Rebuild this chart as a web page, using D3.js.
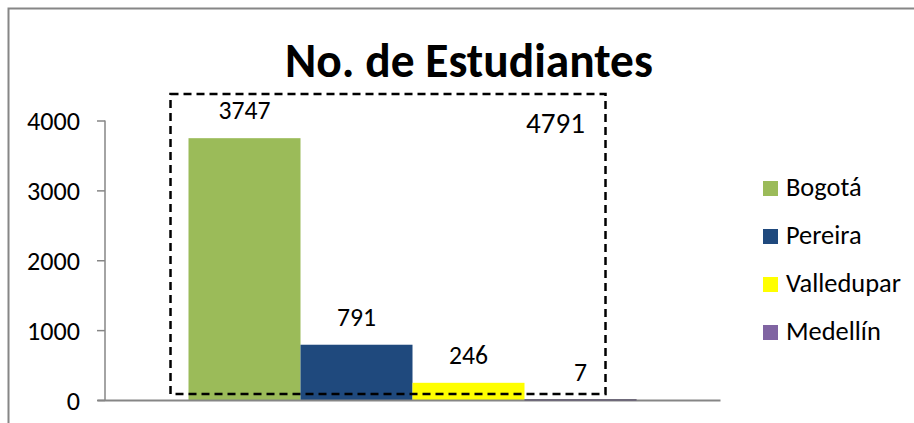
<!DOCTYPE html>
<html>
<head>
<meta charset="utf-8">
<script src="https://cdn.jsdelivr.net/npm/d3@7"></script>
<style>
  html, body { margin: 0; padding: 0; background: #fff; }
  svg { display: block; font-family: Carlito, Calibri, Lato, "Open Sans", sans-serif; }
</style>
</head>
<body>
<div id="chart"></div>
<script>
const title = "No. de Estudiantes";
const cities = ["Bogotá", "Pereira", "Valledupar", "Medellín"];
const students = [3747, 791, 246, 7];
const colors = ["#9BBB59", "#1F497D", "#FFFF00", "#8064A2"];
const yTicks = [0, 1000, 2000, 3000, 4000];

const width = 914;
const height = 423;
const marginTop = 120.5;
const marginLeft = 105;
const plotRight = 720;
const baseline = 400;

const data = cities.map((c, i) => ({ city: c, value: students[i], color: colors[i] }));
const total = d3.sum(students);

const svg = d3.select("#chart")
  .append("svg")
  .attr("width", width)
  .attr("height", height);

// fit a text element's font size to a target width
const fit = (sel, target) => {
  const len = sel.node().getComputedTextLength();
  const fs = parseFloat(sel.attr("font-size"));
  const size = fs * target / len;
  sel.attr("font-size", size);
  return size;
};

// outer chart frame (runs off the right and bottom edges)
svg.append("rect")
  .attr("x", 8.5).attr("y", 8.5)
  .attr("width", 940).attr("height", 440)
  .attr("fill", "none")
  .attr("stroke", "#868686")
  .attr("stroke-width", 2);

// scales
const x0 = d3.scaleBand()
  .domain([title])
  .range([marginLeft, plotRight])
  .paddingInner(0)
  .paddingOuter(0.1864);

const x1 = d3.scaleBand()
  .domain(cities)
  .range([0, x0.bandwidth()]);

const y = d3.scaleLinear()
  .domain([0, 4000])
  .range([baseline, marginTop]);

// title
const t = svg.append("text")
  .attr("x", 469)
  .attr("y", 77)
  .attr("text-anchor", "middle")
  .attr("font-weight", "bold")
  .attr("font-size", 48)
  .attr("fill", "#000")
  .text(title);
fit(t, 368);

// bars
const gx = x0(title);
svg.append("g")
  .selectAll("rect")
  .data(data)
  .join("rect")
  .attr("x", d => gx + x1(d.city))
  .attr("y", d => y(d.value))
  .attr("width", x1.bandwidth())
  .attr("height", d => Math.max(y(0) - y(d.value), 0.6))
  .attr("fill", d => d.color);

// y axis
const yAxis = svg.append("g")
  .attr("transform", `translate(${marginLeft},0)`)
  .call(d3.axisLeft(y).tickValues(yTicks).tickSize(8).tickPadding(17).tickFormat(d3.format("d")));
yAxis.select(".domain").attr("stroke", "#868686").attr("stroke-width", 1.5)
  .attr("d", `M0,${y(4000)}V${y(0)}`);
yAxis.selectAll(".tick line").attr("stroke", "#868686").attr("stroke-width", 1.5);
yAxis.selectAll(".tick text")
  .attr("fill", "#000")
  .attr("font-family", "Carlito, Calibri, Lato, 'Open Sans', sans-serif")
  .attr("font-size", 24)
  .attr("dy", "0.36em");
const tickSize = fit(yAxis.selectAll(".tick text").filter(d => d === 4000), 53);
yAxis.selectAll(".tick text").attr("font-size", tickSize);

// x axis baseline
svg.append("g")
  .attr("transform", `translate(0,${baseline})`)
  .call(d3.axisBottom(d3.scaleLinear().range([marginLeft - 8, plotRight])).tickValues([]).tickSizeOuter(0))
  .call(g => g.select(".domain").attr("stroke", "#868686").attr("stroke-width", 2));
// Medellín's tiny bar sits on the baseline
svg.append("line")
  .attr("x1", gx + x1("Medellín")).attr("x2", gx + x1("Medellín") + x1.bandwidth())
  .attr("y1", baseline).attr("y2", baseline)
  .attr("stroke", "#6f6a7a").attr("stroke-width", 2);

// value labels
const labels = svg.append("g")
  .attr("text-anchor", "middle")
  .attr("fill", "#000")
  .selectAll("text")
  .data(data)
  .join("text")
  .attr("x", d => gx + x1(d.city) + x1.bandwidth() / 2)
  .attr("y", d => y(d.value) - 19)
  .attr("font-size", 22)
  .text(d => d.value);
const lblSize = fit(labels.filter(d => d.city === "Bogotá"), 52);
labels.attr("font-size", lblSize);

// dashed box with total
svg.append("rect")
  .attr("x", gx - 18)
  .attr("y", y(4000) - 26.5)
  .attr("width", 435)
  .attr("height", y(0) - 6 - (y(4000) - 26.5))
  .attr("fill", "none")
  .attr("stroke", "#000")
  .attr("stroke-width", 2.5)
  .attr("stroke-dasharray", "8,5");

const tot = svg.append("text")
  .attr("x", 555.5)
  .attr("y", 133)
  .attr("text-anchor", "middle")
  .attr("font-size", 24)
  .attr("fill", "#000")
  .text(total);
fit(tot, 59);

// legend
const legend = svg.append("g")
  .attr("transform", "translate(763,181)")
  .selectAll("g")
  .data(data)
  .join("g")
  .attr("transform", (d, i) => `translate(0,${i * 48})`);
legend.append("rect")
  .attr("width", 15).attr("height", 15)
  .attr("fill", d => d.color);
const legText = legend.append("text")
  .attr("x", 23)
  .attr("y", 15)
  .attr("font-size", 22)
  .attr("fill", "#000")
  .text(d => d.city);
const legSize = fit(legText.filter(d => d.city === "Valledupar"), 115);
legText.attr("font-size", legSize);
</script>
</body>
</html>
